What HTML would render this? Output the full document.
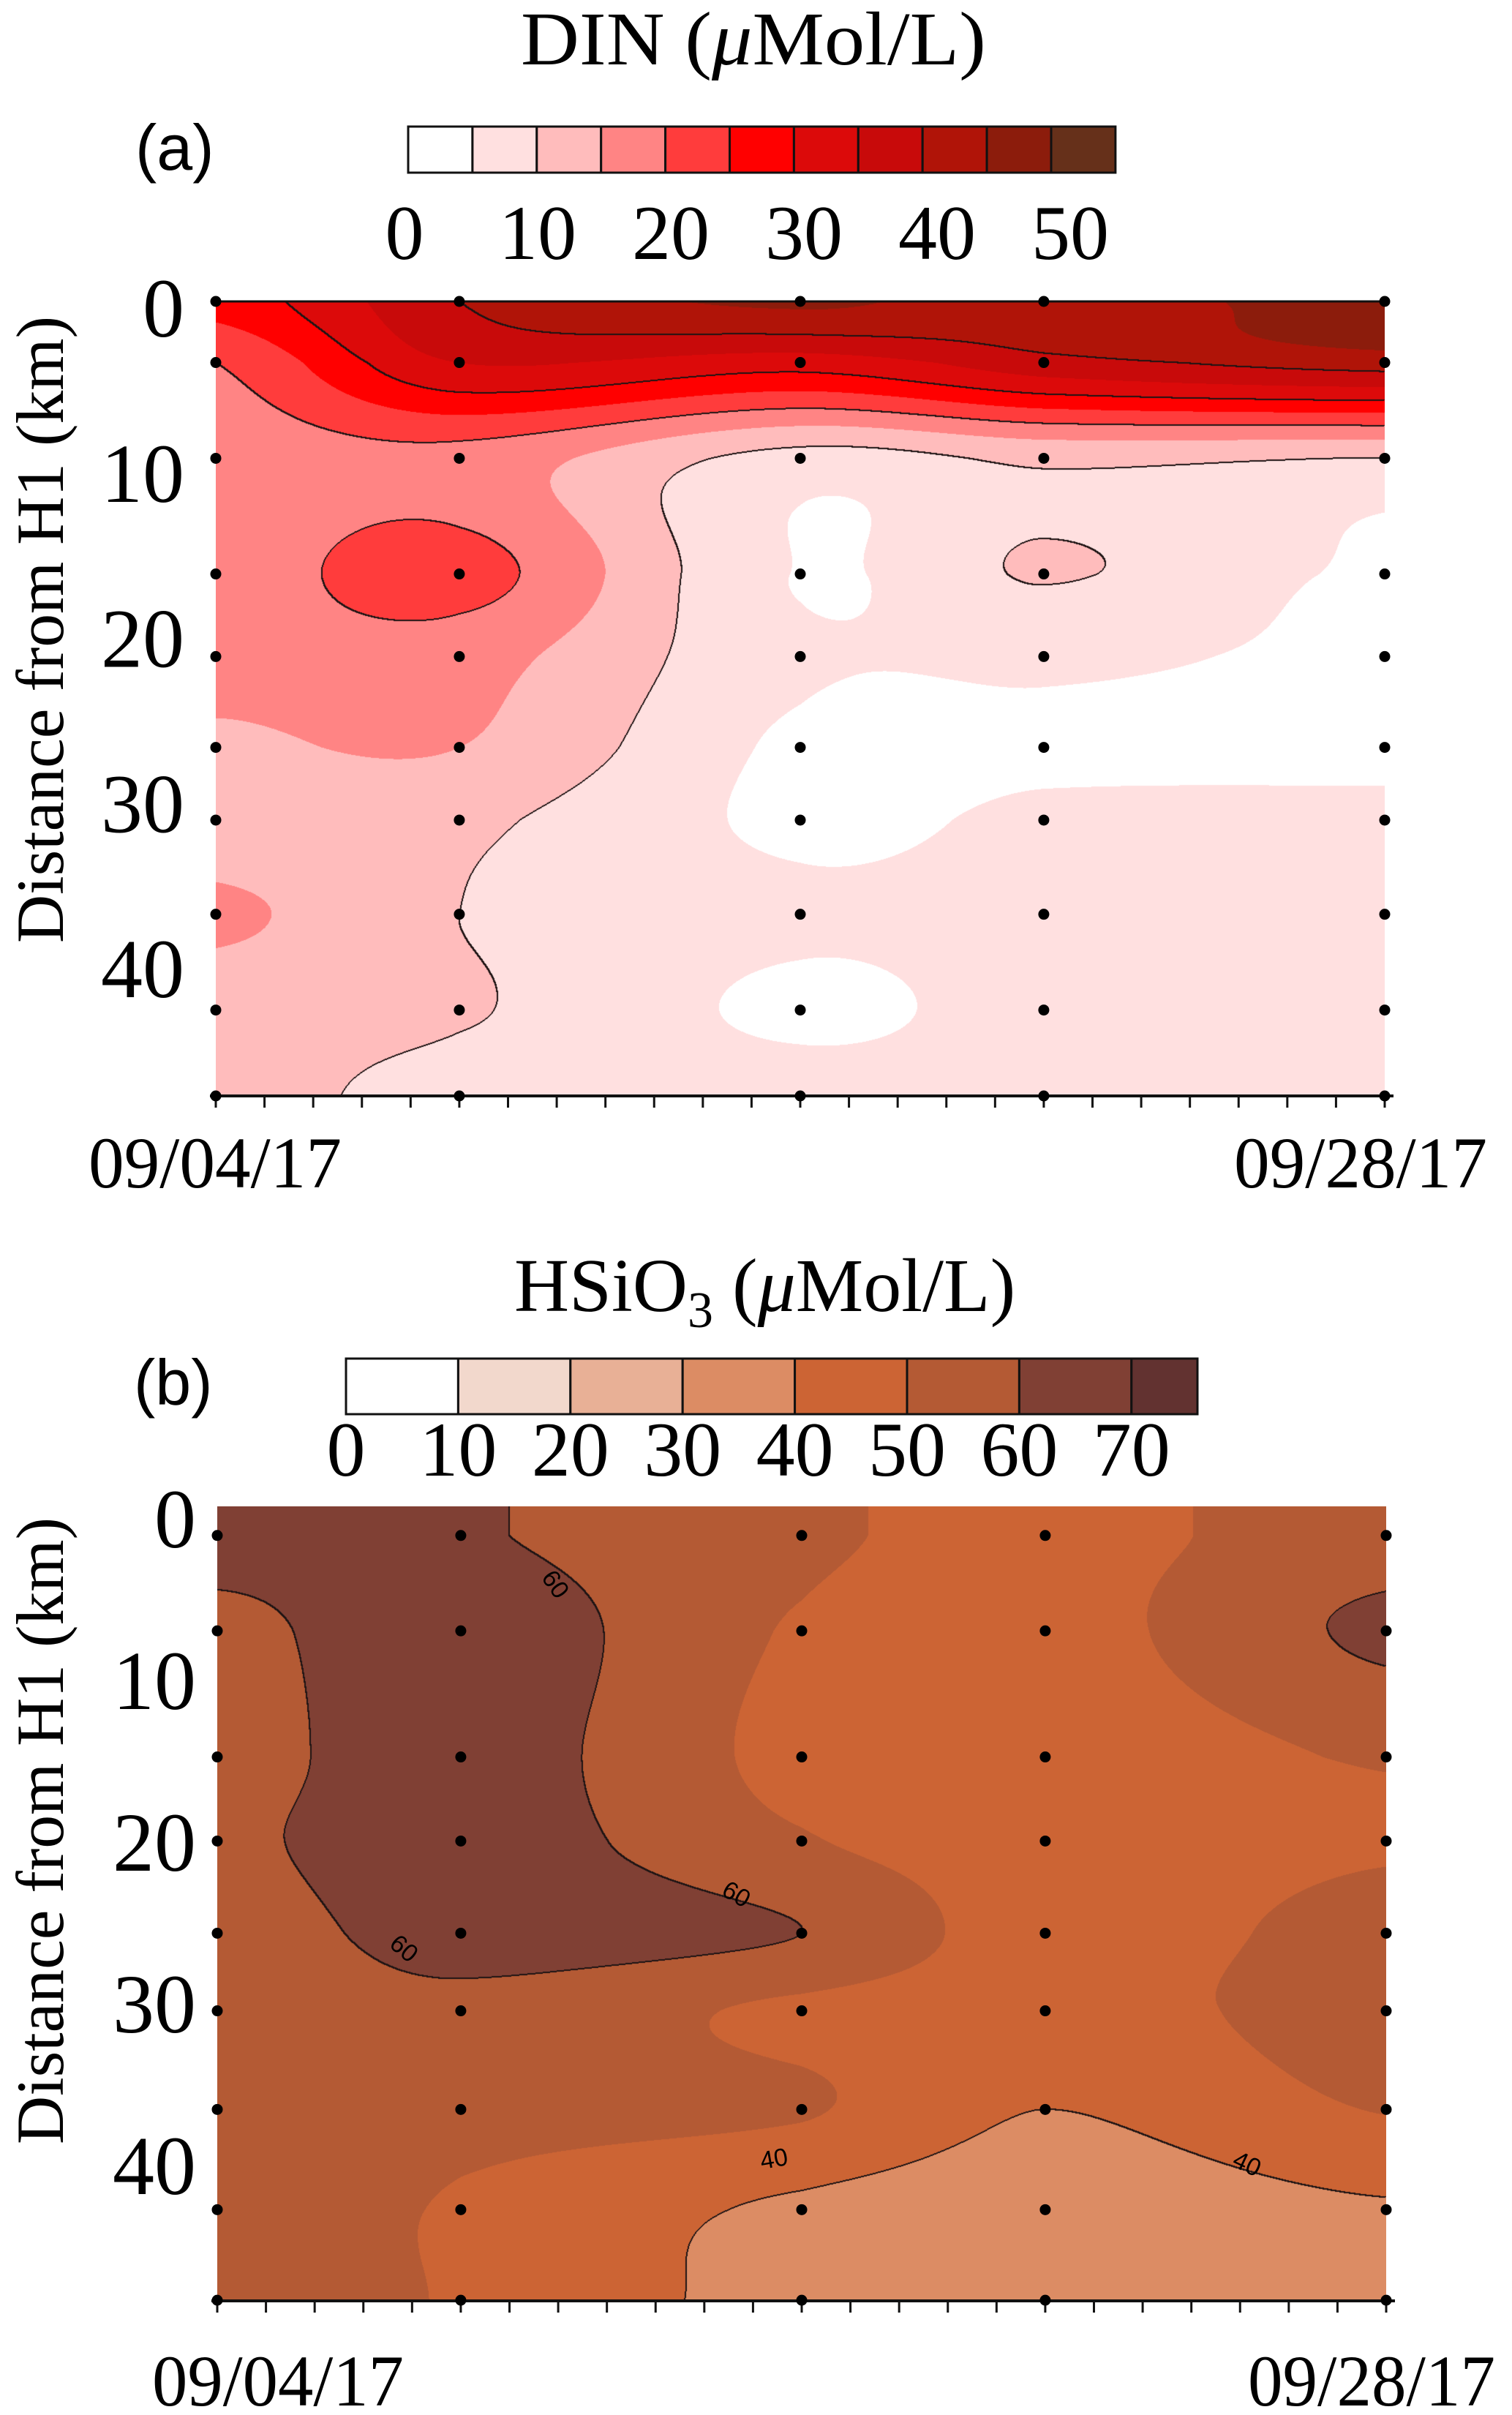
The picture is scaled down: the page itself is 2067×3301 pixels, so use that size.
<!DOCTYPE html>
<html><head><meta charset="utf-8"><style>
html,body{margin:0;padding:0;background:#fff;}
#wrap{position:relative;width:2067px;height:3301px;overflow:hidden;background:#fff;}
canvas{position:absolute;}
svg{position:absolute;left:0;top:0;}
text{font-family:"Liberation Serif",serif;fill:#000;}
</style></head><body>
<div id="wrap">
<canvas id="cA" style="left:295px;top:412px" width="1598" height="1086"></canvas>
<canvas id="cB" style="left:297px;top:2059px" width="1598" height="1086"></canvas>
<svg id="ov" width="2067" height="3301">
 <text x="712" y="88" font-size="104" textLength="636" lengthAdjust="spacingAndGlyphs">DIN (<tspan font-style="italic">μ</tspan>Mol/L)</text>
 <text x="185" y="232" font-size="88" style="font-family:'Liberation Sans',sans-serif">(a)</text>
 <text x="703" y="1792" font-size="104">HSiO<tspan dy="22" font-size="70">3</tspan><tspan dy="-22"> (</tspan><tspan font-style="italic">μ</tspan>Mol/L)</text>
 <text x="183" y="1920" font-size="88" style="font-family:'Liberation Sans',sans-serif">(b)</text>
 <text transform="translate(86,1289) rotate(-90)" font-size="92" textLength="857" lengthAdjust="spacingAndGlyphs">Distance from H1 (km)</text>
 <text transform="translate(86,2931) rotate(-90)" font-size="92" textLength="857" lengthAdjust="spacingAndGlyphs">Distance from H1 (km)</text>
 <text x="294" y="1623" font-size="100" text-anchor="middle" textLength="346" lengthAdjust="spacingAndGlyphs">09/04/17</text>
 <text x="1860" y="1623" font-size="100" text-anchor="middle" textLength="346" lengthAdjust="spacingAndGlyphs">09/28/17</text>
 <text x="380" y="3288" font-size="100" text-anchor="middle" textLength="344" lengthAdjust="spacingAndGlyphs">09/04/17</text>
 <text x="1875" y="3288" font-size="100" text-anchor="middle" textLength="338" lengthAdjust="spacingAndGlyphs">09/28/17</text>
</svg>
</div>
<script>
// ---------- data: panel (a) DIN ----------
const daysA = [0, 5, 12, 17, 24];
const kmA = [0, 3.7, 9.5, 16.5, 21.5, 27, 31.4, 37.1, 42.9, 48.1];
const dinDay0  = [27, 20, 17, 17, 17, 14, 12, 16, 12, 12];
const dinDay5  = [40, 35, 18, 22, 17, 15, 11, 10, 10.5, 8];
const dinDay12 = [46, 32, 8, 4.8, 6, 4, 4, 6, 4, 7];
const dinDay17 = [42, 38, 11, 10.4, 6, 4, 6, 7, 7, 7];
const dinDay24 = [48, 42, 9.8, 4, 4, 4, 6, 7, 7, 7];
const dinLevels = [0, 5, 10, 15, 20, 25, 30, 35, 40, 45, 50];
const dinColors = ['#ffffff','#ffe0e0','#ffbcbc','#ff8484','#ff3c3c','#ff0000','#dc0a0a','#c80a0a','#b01408','#8c1c0c','#66301a'];
const dinLines = [10, 20, 30, 40];
const dinCbTicks = [0, 10, 20, 30, 40, 50];
const yTicks = [0, 10, 20, 30, 40];
// ---------- data: panel (b) HSiO3 ----------
const daysB = [0, 5, 12, 17, 24];
const kmB = [1.8, 7.7, 15.5, 20.7, 26.4, 31.2, 37.3, 43.5, 49.1];
const siDay0  = [64, 57, 56, 58, 55, 54, 53, 53, 53];
const siDay5  = [61, 66, 65, 65, 64, 57, 53, 49, 49];
const siDay12 = [52, 49, 47, 51, 60, 48, 51, 38, 36];
const siDay17 = [47, 46, 44, 45, 45, 45, 40, 34, 34];
const siDay24 = [55, 62, 51, 49, 54, 55, 50.5, 39, 37];
const siLevels = [0, 10, 20, 30, 40, 50, 60, 70];
const siColors = ['#ffffff','#f2d8cc','#e8b096','#dc8c64','#cc6434','#b45a34','#804034','#623230'];
const siLines = [40, 60];
const siCbTicks = [0, 10, 20, 30, 40, 50, 60, 70];

// ---------- axes ----------
const A = {x0:295, x1:1893, y0:412, y1:1498, dmax:24, kmax:48.1};
const B = {x0:297, x1:1895, y0:2059, y1:3145, dmax:24, kmax:49.14};
function xA(d){return A.x0 + d/A.dmax*(A.x1-A.x0);}
function yA(k){return A.y0 + k/A.kmax*(A.y1-A.y0);}
function xB(d){return B.x0 + d/B.dmax*(B.x1-B.x0);}
function yB(k){return B.y0 + k/B.kmax*(B.y1-B.y0);}
function cbAx(v){return 558 + v/5*87.9;}
function cbAlabel(v){return 553 + v*18.2;}
function cbBx(v){return 473 + v*15.34;}

const NS='http://www.w3.org/2000/svg';
const svg=document.getElementById('ov');
function mk(tag, attrs){const e=document.createElementNS(NS,tag);for(const k in attrs)e.setAttribute(k,attrs[k]);svg.appendChild(e);return e;}

function frac(arr,v){
  if(v<=arr[0])return 0;
  for(let i=0;i<arr.length-1;i++){if(v<=arr[i+1])return i+(v-arr[i])/(arr[i+1]-arr[i]);}
  return arr.length-1;
}
function cr(p0,p1,p2,p3,t){
  return 0.5*((2*p1)+(-p0+p2)*t+(2*p0-5*p1+4*p2-p3)*t*t+(-p0+3*p1-3*p2+p3)*t*t*t);
}
function cl(i,n){return i<0?0:(i>n-1?n-1:i);}
function field(cols,fc,fr){
  const nc=cols.length,nr=cols[0].length;
  const ic=Math.min(Math.floor(fc),nc-2),tc=fc-ic;
  const ir=Math.min(Math.floor(fr),nr-2),tr=fr-ir;
  const v=[];
  for(let a=-1;a<=2;a++){const c=cols[cl(ic+a,nc)];
    v.push(cr(c[cl(ir-1,nr)],c[ir],c[ir+1],c[cl(ir+2,nr)],tr));}
  return cr(v[0],v[1],v[2],v[3],tc);
}
function hex(c){return [parseInt(c.slice(1,3),16),parseInt(c.slice(3,5),16),parseInt(c.slice(5,7),16)];}

function render(canvasId, cols, days, kms, ax, levels, colors, lines){
  const cv=document.getElementById(canvasId);const W=cv.width,H=cv.height;
  const ctx=cv.getContext('2d');const img=ctx.createImageData(W,H);const d=img.data;
  const rgb=colors.map(hex);
  const fcs=new Float32Array(W),frs=new Float32Array(H);
  for(let x=0;x<W;x++)fcs[x]=frac(days,x/(W-1)*ax.dmax);
  for(let y=0;y<H;y++)frs[y]=frac(kms,y/(H-1)*ax.kmax);
  const val=new Float32Array(W*H);
  for(let y=0;y<H;y++)for(let x=0;x<W;x++)val[y*W+x]=field(cols,fcs[x],frs[y]);
  const dark=new Uint8Array(W*H);
  for(let y=0;y<H-1;y++)for(let x=0;x<W-1;x++){
    const i=y*W+x,v=val[i],vr=val[i+1],vb=val[i+W];
    for(const L of lines){if((v-L)*(vr-L)<0||(v-L)*(vb-L)<0){dark[i]=1;dark[i+1]=1;dark[i+W]=1;}}
  }
  for(let i=0;i<W*H;i++){
    let b=0;for(let k=levels.length-1;k>=0;k--){if(val[i]>=levels[k]){b=k;break;}}
    const c=dark[i]?[30,20,20]:rgb[b];
    d[i*4]=c[0];d[i*4+1]=c[1];d[i*4+2]=c[2];d[i*4+3]=255;
  }
  ctx.putImageData(img,0,0);
}
render('cA',[dinDay0,dinDay5,dinDay12,dinDay17,dinDay24],daysA,kmA,A,dinLevels,dinColors,dinLines);
render('cB',[siDay0,siDay5,siDay12,siDay17,siDay24],daysB,kmB,B,siLevels,siColors,siLines);

// ---------- colorbar a ----------
dinColors.forEach((c,i)=>{
  const r=mk('rect',{x:cbAx(dinLevels[i]),y:173,width:cbAx(dinLevels[i]+5)-cbAx(dinLevels[i]),height:63,fill:c,stroke:'#111','stroke-width':3});
  
  
});
dinCbTicks.forEach(v=>{
  const t=mk('text',{x:cbAlabel(v),y:354,'font-size':106,'text-anchor':'middle'});t.textContent=v;
  
  
});
// ---------- colorbar b ----------
siColors.forEach((c,i)=>{
  const x=cbBx(siLevels[i]);const x2=i<siColors.length-1?cbBx(siLevels[i+1]):1637;
  const r=mk('rect',{x:x,y:1857,width:x2-x,height:76,fill:c,stroke:'#111','stroke-width':3});
  
  
});
siCbTicks.forEach(v=>{
  const t=mk('text',{x:cbBx(v),y:2017,'font-size':106,'text-anchor':'middle'});t.textContent=v;
  
  
});

// ---------- axes & ticks ----------
function axes(ax,xf,yf,kms,days,labelRight,labelOff,topLine,name){
  if(topLine){const l=mk('line',{x1:ax.x0,y1:ax.y0,x2:ax.x1,y2:ax.y0,stroke:'#111','stroke-width':3});
    }
  const b=mk('line',{x1:ax.x0-8,y1:ax.y1,x2:ax.x1+12,y2:ax.y1,stroke:'#111','stroke-width':4});
  
  for(let d=0;d<=ax.dmax;d++){
    const t=mk('line',{x1:xf(d),y1:ax.y1,x2:xf(d),y2:ax.y1+16,stroke:'#111','stroke-width':3});
    
  }
  yTicks.forEach(k=>{
    const t=mk('text',{x:labelRight,y:yf(k)+labelOff+38,'font-size':114,'text-anchor':'end'});t.textContent=k;
    
  });
  days.forEach(d=>kms.forEach(k=>{
    const c=mk('circle',{cx:xf(d),cy:yf(k),r:7.5,fill:'#000'});
    
  }));
}
axes(A,xA,yA,kmA,daysA,252,10,true,'panel-a');
axes(B,xB,yB,kmB,daysB,268,18,false,'panel-b');

// contour labels (b)
const cLabels=[['60',750,2172,55],['60',1001,2599,30],['60',545,2672,40],['40',1060,2962,-10],['40',1700,2968,25]];
cLabels.forEach(l=>{
  const t=mk('text',{x:l[1],y:l[2],'font-size':34,'text-anchor':'middle',transform:'rotate('+l[3]+' '+l[1]+' '+l[2]+')',style:"font-family:'Liberation Sans',sans-serif"});
  t.textContent=l[0];
  
  
});
</script>
</body></html>
